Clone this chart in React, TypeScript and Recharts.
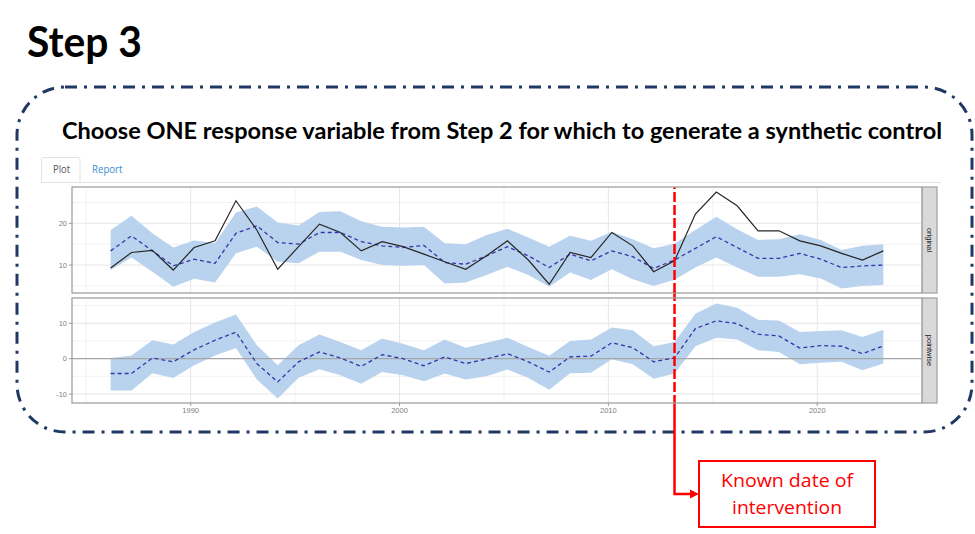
import React from 'react'
import { ComposedChart, Area, Line, XAxis, YAxis, CartesianGrid, ReferenceLine } from 'recharts'

const YEARS = [1986, 1987, 1988, 1989, 1990, 1991, 1992, 1993, 1994, 1995, 1996, 1997, 1998, 1999, 2000, 2001, 2002, 2003, 2004,
  2005, 2006, 2007, 2008, 2009, 2010, 2011, 2012, 2013, 2014, 2015, 2016, 2017, 2018, 2019, 2020, 2021, 2022, 2023]

// "original" panel: observed series, synthetic control and its interval
const ORIGINAL = [9.3, 13.0, 13.5, 8.8, 14.2, 15.8, 25.4, 18.4, 9.0, 14.4, 19.8, 17.8, 13.4, 15.6, 14.4, 12.6, 10.8, 9.0, 12.2,
  15.8, 11.2, 5.4, 13.0, 11.8, 17.8, 14.6, 8.4, 11.0, 22.2, 27.5, 24.2, 18.2, 18.2, 15.8, 14.6, 12.8, 11.2, 13.4]
const SYNTH = [13.4, 17.0, 13.4, 9.8, 11.4, 10.4, 17.6, 19.4, 15.4, 15.0, 17.8, 17.8, 15.6, 14.6, 14.2, 14.7, 10.6, 10.2, 12.2,
  14.4, 12.2, 9.4, 12.6, 11.0, 13.4, 12.0, 9.2, 11.2, 14.0, 16.8, 14.2, 11.6, 11.6, 12.8, 11.4, 9.4, 9.8, 10.0]
const SYNTH_LO = [8.8, 11.8, 8.4, 4.8, 6.7, 5.8, 12.8, 14.4, 10.8, 10.4, 13.2, 13.2, 11.2, 10.0, 9.8, 10.0, 5.6, 5.8, 7.6,
  9.6, 7.6, 4.8, 8.2, 6.4, 9.0, 6.6, 5.0, 6.5, 9.4, 11.8, 9.4, 7.2, 7.2, 7.8, 6.8, 4.4, 5.0, 5.2]
const SYNTH_HI = [18.4, 21.8, 17.6, 14.2, 15.9, 15.2, 22.6, 24.0, 20.2, 19.5, 22.7, 22.9, 20.5, 19.2, 19.0, 19.2, 15.2, 15.0, 17.2,
  18.7, 16.6, 14.4, 17.0, 15.8, 18.0, 16.2, 14.0, 15.1, 18.4, 21.6, 18.6, 16.0, 16.2, 17.4, 16.0, 13.6, 14.6, 15.0]

// "pointwise" panel: effect and its interval
const EFFECT = [-4.2, -4.2, 0.2, -0.9, 2.5, 5.2, 7.5, -1.4, -6.6, -0.9, 1.9, 0.2, -2.2, 1.1, 0.0, -2.0, 0.5, -1.4, -0.1,
  1.4, -0.9, -3.8, 0.5, 0.7, 4.5, 3.1, -0.9, 0.2, 8.5, 10.7, 9.9, 6.9, 6.4, 3.0, 3.7, 3.5, 1.4, 3.6]
const EFFECT_LO = [-9.0, -9.0, -4.1, -5.5, -1.9, 0.9, 3.0, -5.9, -11.3, -5.4, -3.0, -4.7, -7.1, -3.8, -4.7, -6.4, -4.2, -5.9, -5.0,
  -3.1, -5.5, -8.8, -4.1, -4.0, -0.2, -1.6, -5.7, -4.2, 3.5, 5.9, 5.4, 2.4, 1.9, -1.6, -1.2, -0.9, -3.3, -1.4]
const EFFECT_HI = [0.2, 0.9, 5.2, 4.0, 7.5, 10.2, 12.5, 3.8, -1.9, 3.8, 6.8, 4.7, 2.4, 5.7, 4.2, 2.4, 5.4, 3.1, 4.5,
  5.9, 3.3, 0.8, 5.0, 5.4, 8.8, 8.0, 3.5, 4.7, 12.7, 15.6, 14.4, 11.0, 10.8, 7.5, 7.8, 8.0, 6.1, 8.2]

const X_TICKS = [1990, 2000, 2010, 2020]
const X_MINOR = [1985, 1995, 2005, 2015, 2025]
const ORIG_TICKS = [10, 20]
const ORIG_MINOR = [5, 15, 25]
const EFFECT_TICKS = [-10, 0, 10]
const EFFECT_MINOR = [-5, 5, 15]
const INTERVENTION_YEAR = 2013
const PANEL_LABELS = ['original', 'pointwise']

// observations are dated early in each year, a little right of the year gridlines
const toX = (year: number) => year + 2 / 12

const xMin = toX(YEARS[0])
const xMax = toX(YEARS[YEARS.length - 1])
const X_DOMAIN = [xMin - 0.05 * (xMax - xMin), xMax + 0.05 * (xMax - xMin)]

const topData = YEARS.map((y, i) => ({ x: toX(y), actual: ORIGINAL[i], synth: SYNTH[i], band: [SYNTH_LO[i], SYNTH_HI[i]] }))
const bottomData = YEARS.map((y, i) => ({ x: toX(y), effect: EFFECT[i], band: [EFFECT_LO[i], EFFECT_HI[i]] }))

const RED = '#ff0000'
const BAND = '#b9d3ee'
const DASH_BLUE = '#3535aa'
const tickStyle = { fontSize: 7.5, fill: '#7f7f7f', fontFamily: 'Liberation Sans, Arial, sans-serif' }

// red marker continues below the plot and bends into the annotation box
function InterventionArrow(props: any) {
  const x = props.x1
  const top = Math.min(props.y1, props.y2)
  const bottom = Math.max(props.y1, props.y2)
  const bendY = 203
  const tipX = 699
  return (
    <g>
      <line x1={x} x2={x} y1={top - 7} y2={bottom} stroke={RED} strokeWidth={2.5} strokeDasharray="10 3" />
      <path d={`M${x},${bottom} V${bendY} H${tipX - 7}`} fill="none" stroke={RED} strokeWidth={2.5} />
      <path d={`M${tipX},${bendY} l-9,-4.5 v9 z`} fill={RED} />
    </g>
  )
}

export default function App() {
  return (
    <div style={{ position: 'absolute', left: 0, top: 0, width: 975, height: 534, background: '#fff', overflow: 'hidden', fontFamily: 'Lato, sans-serif' }}>
      <svg width={975} height={534} style={{ position: 'absolute', left: 0, top: 0 }}>
        <rect x={17} y={87} width={955} height={345} rx={48} fill="none" stroke="#1f3864" strokeWidth={3} strokeDasharray="12 7 3 7" />
        <text x={27} y={57} fontFamily="Lato" fontWeight={700} fontSize={42} textLength={115} lengthAdjust="spacingAndGlyphs" fill="#000">Step 3</text>
        <text x={62} y={139} fontFamily="Lato" fontWeight={700} fontSize={22} textLength={880} lengthAdjust="spacingAndGlyphs" fill="#000">
          Choose ONE response variable from Step 2 for which to generate a synthetic control
        </text>
        <line x1={41} x2={941} y1={182.5} y2={182.5} stroke="#e2e2e2" />
        <path d="M41.5,182 V159.5 Q41.5,157.5 43.5,157.5 H78 Q80,157.5 80,159.5 V182" fill="#fff" stroke="#e2e2e2" />
        <text x={53} y={173} fontFamily="Open Sans" fontSize={11.5} textLength={17} lengthAdjust="spacingAndGlyphs" fill="#555">Plot</text>
        <text x={92} y={173} fontFamily="Open Sans" fontSize={11.5} textLength={30.5} lengthAdjust="spacingAndGlyphs" fill="#3c8dd0">Report</text>
        {PANEL_LABELS.map((label, i) => {
          const y = i === 0 ? 187 : 298
          const h = i === 0 ? 106 : 105
          return (
            <g key={label}>
              <rect x={922} y={y} width={15} height={h} fill="#d9d9d9" stroke="#a0a0a0" strokeWidth={1.2} />
              <text x={929.5} y={y + h / 2} transform={`rotate(90 929.5 ${y + h / 2})`} textAnchor="middle" dominantBaseline="central"
                fontSize={7.5} fontFamily="Liberation Sans, Arial, sans-serif" fill="#1a1a1a">{label}</text>
            </g>
          )
        })}
      </svg>

      <div style={{ position: 'absolute', left: 0, top: 180 }}>
        <ComposedChart width={975} height={120} data={topData} margin={{ top: 7, right: 53, bottom: 7, left: 0 }}>
          <CartesianGrid stroke="#f2f2f2" verticalValues={X_MINOR} horizontalValues={ORIG_MINOR} />
          <CartesianGrid stroke="#e6e6e6" verticalValues={X_TICKS} horizontalValues={ORIG_TICKS} />
          <XAxis type="number" dataKey="x" domain={X_DOMAIN} hide allowDataOverflow />
          <YAxis type="number" domain={[3.3, 28.7]} ticks={ORIG_TICKS} width={72} tickSize={3} tickMargin={2}
            axisLine={false} tickLine={{ stroke: '#999' }} tick={tickStyle} allowDataOverflow />
          <Area dataKey="band" stroke="none" fill={BAND} fillOpacity={1} isAnimationActive={false} />
          <Line dataKey="synth" stroke={DASH_BLUE} strokeWidth={1.3} strokeDasharray="4 3" dot={false} activeDot={false} isAnimationActive={false} />
          <Line dataKey="actual" stroke="#262626" strokeWidth={1.2} dot={false} activeDot={false} isAnimationActive={false} />
          <ReferenceLine x={toX(INTERVENTION_YEAR)} stroke={RED} strokeWidth={2.5} strokeDasharray="10 3" ifOverflow="visible" />
        </ComposedChart>
      </div>

      <div style={{ position: 'absolute', left: 0, top: 291 }}>
        <ComposedChart width={975} height={243} data={bottomData} margin={{ top: 7, right: 53, bottom: 110, left: 0 }}>
          <CartesianGrid stroke="#f2f2f2" verticalValues={X_MINOR} horizontalValues={EFFECT_MINOR} />
          <CartesianGrid stroke="#e6e6e6" verticalValues={X_TICKS} horizontalValues={EFFECT_TICKS} />
          <XAxis type="number" dataKey="x" domain={X_DOMAIN} ticks={X_TICKS} interval={0} height={21} tickSize={3} tickMargin={2}
            axisLine={false} tickLine={{ stroke: '#999' }} tick={tickStyle} allowDataOverflow />
          <YAxis type="number" domain={[-12.55, 17.15]} ticks={EFFECT_TICKS} width={72} tickSize={3} tickMargin={2}
            axisLine={false} tickLine={{ stroke: '#999' }} tick={tickStyle} allowDataOverflow />
          <Area dataKey="band" stroke="none" fill={BAND} fillOpacity={1} isAnimationActive={false} />
          <ReferenceLine y={0} stroke="#a6a6a6" strokeWidth={1.3} />
          <Line dataKey="effect" stroke={DASH_BLUE} strokeWidth={1.3} strokeDasharray="4 3" dot={false} activeDot={false} isAnimationActive={false} />
          <ReferenceLine x={toX(INTERVENTION_YEAR)} shape={InterventionArrow} ifOverflow="visible" />
        </ComposedChart>
      </div>

      <svg width={975} height={534} style={{ position: 'absolute', left: 0, top: 0, pointerEvents: 'none' }}>
        <rect x={72} y={187} width={850} height={106} fill="none" stroke="#a0a0a0" strokeWidth={1.3} />
        <rect x={72} y={298} width={850} height={105} fill="none" stroke="#a0a0a0" strokeWidth={1.3} />
        <rect x={699} y={461} width={176} height={66} fill="#fff" stroke={RED} strokeWidth={2} />
        <text x={787} y={487} textAnchor="middle" fontFamily="Open Sans" fontSize={18.5} textLength={132} lengthAdjust="spacingAndGlyphs" fill={RED}>Known date of</text>
        <text x={787} y={514} textAnchor="middle" fontFamily="Open Sans" fontSize={18.5} textLength={110} lengthAdjust="spacingAndGlyphs" fill={RED}>intervention</text>
      </svg>
    </div>
  )
}
